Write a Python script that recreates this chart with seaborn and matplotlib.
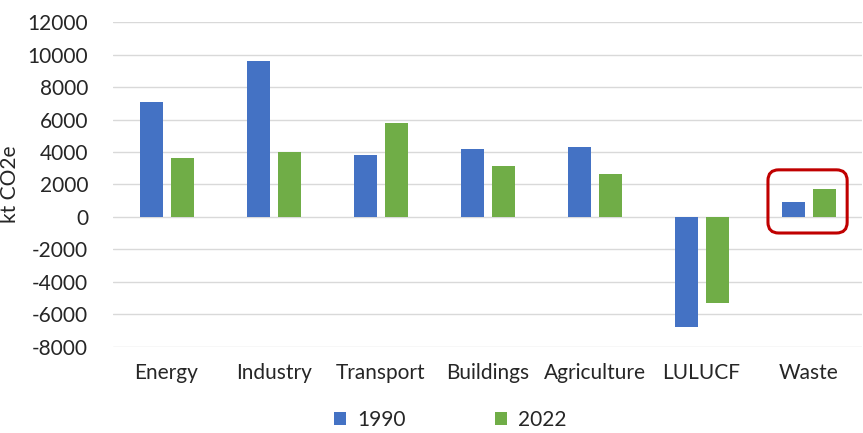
import pandas as pd
import numpy as np
import matplotlib.pyplot as plt
import seaborn as sns
from matplotlib.patches import FancyBboxPatch

sectors = ['Energy', 'Industry', 'Transport', 'Buildings', 'Agriculture', 'LULUCF', 'Waste']
emis_1990 = [7050, 9600, 3820, 4200, 4330, -6780, 920]
emis_2022 = [3600, 3980, 5800, 3120, 2630, -5320, 1720]
years = ['1990', '2022']

df = pd.DataFrame({'sector': sectors * 2,
                   'year': ['1990'] * len(sectors) + ['2022'] * len(sectors),
                   'value': emis_1990 + emis_2022})

sns.set_style('white')
plt.rcParams['font.family'] = ['Lato', 'DejaVu Sans']
plt.rcParams['axes.unicode_minus'] = False

fig = plt.figure(figsize=(8.63, 4.33), dpi=100)
ax = fig.add_axes([0.131, 0.199, 0.868, 0.75])

sns.barplot(data=df, x='sector', y='value', hue='year', hue_order=years,
            palette=['#4472C4', '#70AD47'], saturation=1, width=0.58, gap=0.26,
            edgecolor='none', ax=ax)

ax.set_ylim(-8000, 12000)
ax.set_yticks(np.arange(-8000, 12001, 2000))
ax.set_xlim(-0.5, len(sectors) - 0.5)
ax.yaxis.grid(True, color='#d9d9d9', linewidth=1)
ax.set_axisbelow(True)
for s in ax.spines.values():
    s.set_visible(False)
ax.tick_params(axis='both', labelsize=15, length=0, colors='#262626')
ax.tick_params(axis='x', pad=12)
ax.tick_params(axis='y', pad=18)
ax.set_xlabel('')
ax.set_ylabel('kt CO2e', fontsize=15, color='#262626')
ax.yaxis.set_label_coords(-0.124, 0.5)

# red box around the Waste bars
aspect = (20000 / 325) * (749 / 7)
box = FancyBboxPatch((5.62, -990), 0.74, 3890,
                     boxstyle='round,pad=0,rounding_size=0.1',
                     mutation_aspect=aspect, fill=False,
                     edgecolor='#C00000', linewidth=2.2, zorder=5)
ax.add_patch(box)

handles, labels = ax.get_legend_handles_labels()
ax.legend(handles, labels, loc='center', bbox_to_anchor=(0.45, -0.225),
          ncol=2, frameon=False, fontsize=15, handlelength=0.6, handleheight=0.6,
          handletextpad=0.5, columnspacing=4.3, labelcolor='#262626')

fig.savefig('out.png', dpi=100)
